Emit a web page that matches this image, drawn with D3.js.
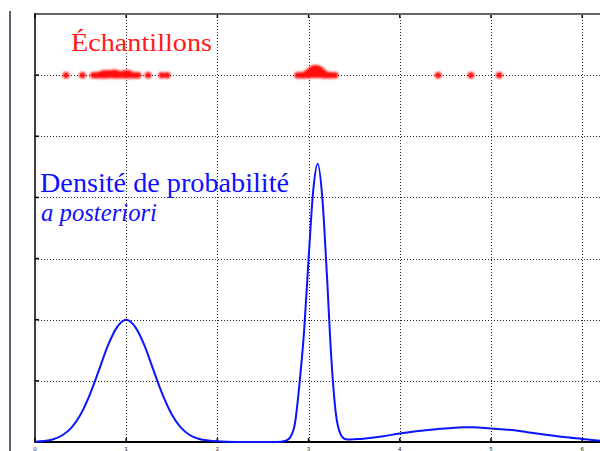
<!DOCTYPE html>
<html><head><meta charset="utf-8">
<script src="https://cdn.jsdelivr.net/npm/d3@7/dist/d3.min.js"></script>
<style>html,body{margin:0;padding:0;background:#fff;} svg{display:block;}</style>
</head><body>
<script>
// ---- data ----
const xTicks = [0, 1, 2, 3, 4, 5, 6];
const yGrid = [1, 2, 3, 4, 5, 6];
// posterior density curve (x, height in grid units)
const densityX = [0.0,0.1,0.2,0.3,0.4,0.5,0.6,0.7,0.8,0.9,1.0,1.1,1.2,1.3,1.4,1.5,1.6,1.7,1.8,1.9,2.0,2.1,2.2,2.4,2.6,2.7,2.75,2.8,2.85,2.9,2.95,3.0,3.05,3.1,3.15,3.2,3.25,3.3,3.35,3.4,3.45,3.5,3.6,3.8,4.0,4.2,4.4,4.6,4.7,4.8,5.0,5.2,5.4,5.6,5.8,6.0,6.2,6.4];
const densityY = [0.005,0.016,0.045,0.11,0.235,0.45,0.77,1.17,1.58,1.88,2.0,1.88,1.58,1.17,0.77,0.45,0.235,0.11,0.05,0.025,0.012,0.005,0.002,0,0,0.005,0.02,0.08,0.3,0.95,1.8,3.0,4.1,4.55,4.0,2.75,1.35,0.45,0.13,0.05,0.04,0.045,0.055,0.09,0.14,0.18,0.21,0.235,0.24,0.24,0.22,0.2,0.16,0.12,0.08,0.05,0.02,0.01];
// MCMC samples (x positions)
const samples = [0.34,0.52,0.64,0.67,0.70,0.72,0.74,0.755,0.765,0.77,0.78,0.79,0.81,0.83,0.845,0.86,0.87,0.875,0.88,0.89,0.90,0.92,0.95,0.98,0.99,0.995,1.0,1.005,1.01,1.03,1.05,1.07,1.10,1.13,1.24,1.39,1.45,
  2.88,2.92,2.95,2.97,2.99,3.0,3.01,3.02,3.03,3.035,3.04,3.05,3.055,3.06,3.065,3.07,3.075,3.08,3.085,3.09,3.095,3.10,3.105,3.11,3.115,3.12,3.13,3.14,3.15,3.16,3.17,3.19,3.22,3.25,3.29,
  4.42,4.78,5.09];
const sampleLevel = 6;
const labelSamples = "Échantillons";
const labelDensity1 = "Densité de probabilité";
const labelDensity2 = "a posteriori";

// ---- drawing ----
const W = 600, H = 451;
const svg = d3.select("body").append("svg").attr("width", W).attr("height", H);
const x = d3.scaleLinear().domain([0, 6.5]).range([35, 35 + 6.5 * 91.2]);
const y = d3.scaleLinear().domain([0, 7]).range([442, 14]);
const x0 = x(0), x1 = x.range()[1], yb = y(0), yt = y(7);

const defs = svg.append("defs");
defs.append("filter").attr("id", "blur").attr("x", "-50%").attr("y", "-50%").attr("width", "200%").attr("height", "200%")
  .append("feGaussianBlur").attr("stdDeviation", 1.1);
const clip = defs.append("clipPath").attr("id", "plotclip");
clip.append("rect").attr("x", x0).attr("y", yt).attr("width", x1 - x0).attr("height", yb - yt + 2);

// outer left line
svg.append("line").attr("x1", 10).attr("x2", 10).attr("y1", 11).attr("y2", H)
  .attr("stroke", "#5b6274").attr("stroke-width", 2);

// grid
const g = svg.append("g");
g.selectAll("line.vg").data(xTicks.filter(d => d > 0)).join("line")
  .attr("x1", d => Math.round(x(d)) + 0.5).attr("x2", d => Math.round(x(d)) + 0.5)
  .attr("y1", yt).attr("y2", yb)
  .attr("stroke", "#222").attr("stroke-width", 1).attr("stroke-dasharray", "1,2");
g.selectAll("line.hg").data(yGrid).join("line")
  .attr("x1", x0).attr("x2", W)
  .attr("y1", d => Math.round(y(d)) + 0.5).attr("y2", d => Math.round(y(d)) + 0.5)
  .attr("stroke", "#222").attr("stroke-width", 1).attr("stroke-dasharray", "1,2");

// ticks
g.selectAll("line.bt").data(xTicks).join("line")
  .attr("x1", d => x(d)).attr("x2", d => x(d)).attr("y1", yb).attr("y2", yb - 4)
  .attr("stroke", "#000").attr("stroke-width", 1.5);
g.selectAll("line.tt").data(xTicks).join("line")
  .attr("x1", d => x(d)).attr("x2", d => x(d)).attr("y1", yt).attr("y2", yt + 4)
  .attr("stroke", "#000").attr("stroke-width", 1.5);
g.selectAll("line.lt").data(yGrid).join("line")
  .attr("x1", x0).attr("x2", x0 + 4).attr("y1", d => y(d)).attr("y2", d => y(d))
  .attr("stroke", "#000").attr("stroke-width", 1.5);

// tick labels
g.selectAll("text.tl").data(xTicks).join("text")
  .attr("x", d => x(d)).attr("y", yb + 8.5).attr("text-anchor", "middle")
  .attr("font-family", "DejaVu Sans, sans-serif").attr("font-size", 5.5).attr("fill", "#222")
  .text(d => d);

// frame
svg.append("line").attr("x1", x0).attr("x2", W).attr("y1", yt).attr("y2", yt)
  .attr("stroke", "#666").attr("stroke-width", 2);
svg.append("line").attr("x1", x0).attr("x2", x0).attr("y1", yt - 1).attr("y2", yb + 1)
  .attr("stroke", "#000").attr("stroke-width", 1.5);
svg.append("line").attr("x1", x0).attr("x2", W).attr("y1", yb).attr("y2", yb)
  .attr("stroke", "#000").attr("stroke-width", 2);

// density curve
const pts = densityX.map((d, i) => [d, densityY[i]]);
svg.append("path").datum(pts)
  .attr("clip-path", "url(#plotclip)")
  .attr("d", d3.line().x(d => x(d[0])).y(d => y(d[1])).curve(d3.curveMonotoneX))
  .attr("fill", "none").attr("stroke", "#0a14ff").attr("stroke-width", 2);

// samples (stacked where dense)
const sy = y(sampleLevel);
const sg = svg.append("g").attr("filter", "url(#blur)");
samples.forEach((s, i) => {
  const n = samples.filter(t => Math.abs(t - s) < 0.05).length;
  const h = Math.max(0, n - 4) * 0.5;
  sg.append("rect")
    .attr("x", x(s) - 3.3).attr("y", sy - 3.2 - h)
    .attr("width", 6.6).attr("height", 6.6 + h * 0.9).attr("rx", 3.3)
    .attr("fill", "#ff1010");
});

// labels
const serif = "Liberation Serif, Times New Roman, serif";
svg.append("text").attr("x", 71).attr("y", 51)
  .attr("font-family", serif).attr("font-size", 26).attr("fill", "#ff1a1a")
  .attr("textLength", 141).attr("lengthAdjust", "spacingAndGlyphs")
  .text(labelSamples);
svg.append("text").attr("x", 40).attr("y", 192)
  .attr("font-family", serif).attr("font-size", 27).attr("fill", "#1010ff")
  .attr("textLength", 249).attr("lengthAdjust", "spacingAndGlyphs")
  .text(labelDensity1);
svg.append("text").attr("x", 41).attr("y", 221)
  .attr("font-family", serif).attr("font-size", 26).attr("font-style", "italic").attr("fill", "#1010ff")
  .attr("textLength", 116).attr("lengthAdjust", "spacingAndGlyphs")
  .text(labelDensity2);
</script>
</body></html>
